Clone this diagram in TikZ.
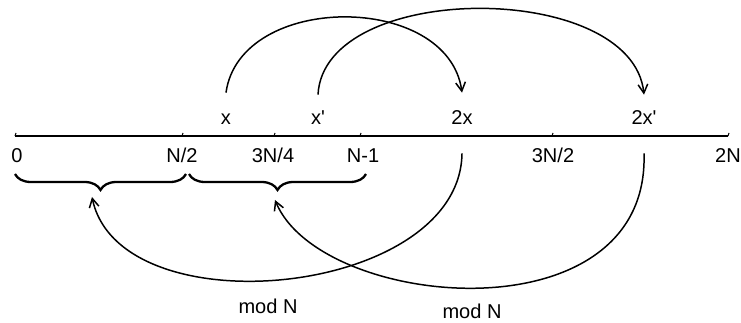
\documentclass[tikz,border=0pt]{standalone}
\usepackage{fontspec}
\setmainfont{Liberation Sans}
\usepackage{tikz}
\usetikzlibrary{arrows.meta,calc,decorations.pathreplacing}

\begin{document}
\begin{tikzpicture}[>={Straight Barb[length=5pt,width=5.5pt]},
    lbl/.style={font=\fontsize{11.4}{13.7}\selectfont, inner sep=0pt, anchor=base,
        text height=0.3cm, text depth=0.08cm},
    jump/.style={->, line width=0.85pt},
    brace/.style={decorate, line width=1.3pt, decoration={brace, mirror, amplitude=0.32cm}}]
    \useasboundingbox (0, 0) rectangle (14.82, 6.44);

    % --- Number line from 0 to 2N ---
    \draw[line width=1pt] (0.3, 3.72) -- (14.56, 3.72);
    \foreach \t in {0.3, 3.64, 5.48, 7.2, 11.04, 14.56}
        \draw[line width=0.6pt] (\t, 3.72) -- ++(0.02, 0.06);

    % Labels below the line
    \node[lbl] (l0)   at (0.34, 3.18)  {0};
    \node[lbl] (lh)   at (3.64, 3.18)  {N/2};
    \node[lbl] (lq)   at (5.46, 3.18)  {3N/4};
    \node[lbl] (ln)   at (7.26, 3.18)  {N-1};
    \node[lbl] (lth)  at (11.06, 3.18) {3N/2};
    \node[lbl] (l2n)  at (14.56, 3.18) {2N};

    % Labels above the line
    \node[lbl] (lx)   at (4.52, 3.94)  {x};
    \node[lbl] (lxp)  at (6.36, 3.94)  {x\textquotesingle};
    \node[lbl] (l2x)  at (9.24, 3.94)  {2x};
    \node[lbl] (l2xp) at (12.88, 3.94) {2x\textquotesingle};

    % --- Doubling arcs (top) ---
    \draw[jump] ([yshift=0.34cm]lx.north) .. controls (4.8, 6.6) and (8.96, 6.6) .. ([yshift=0.34cm]l2x.north);
    \draw[jump] ([yshift=0.3cm]lxp.north) .. controls (6.48, 6.84) and (12.64, 6.84) .. ([yshift=0.3cm]l2xp.north);

    % --- Braces under [0, N/2] and [N/2, N-1] ---
    \draw[brace] (0.3, 2.96) -- (3.72, 2.96);
    \draw[brace] (3.78, 2.96) -- (7.32, 2.96);
    \coordinate (h1) at (1.84, 2.5);
    \coordinate (h2) at (5.5, 2.44);

    % --- Reduction arcs (bottom) ---
    \draw[jump] ([yshift=-0.48cm]l2x.south) .. controls (9.2, 0.5) and (2.4, -0.16) .. (h1);
    \draw[jump] ([yshift=-0.48cm]l2xp.south) .. controls (13.0, -0.36) and (6.4, 0.24) .. (h2);
    \node[lbl] (m1) at (5.36, 0.18) {mod N};
    \node[lbl] (m2) at (9.44, 0.08) {mod N};
\end{tikzpicture}
\end{document}
